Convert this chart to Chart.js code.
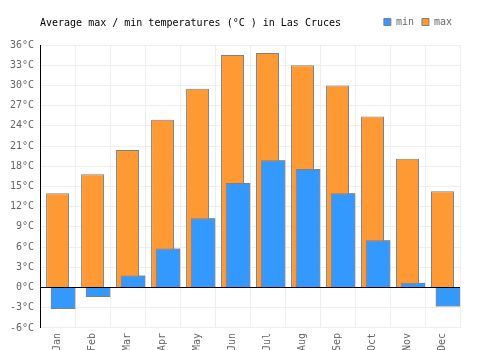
<!DOCTYPE html>
<html>
<head>
<meta charset="utf-8">
<script src="https://cdn.jsdelivr.net/npm/chart.js@4"></script>
<style>
  body { margin: 0; background: #fff; }
  #wrap { position: relative; width: 500px; height: 350px; }
  #title {
    position: absolute; left: 40px; top: 17px;
    font: 10px "DejaVu Sans Mono", monospace; color: #000;
  }
</style>
</head>
<body>
<div id="wrap">
  <canvas id="tempChart"></canvas>
  <div id="title">Average max / min temperatures (°C ) in Las Cruces</div>
</div>
<script>
const months = ['Jan', 'Feb', 'Mar', 'Apr', 'May', 'Jun', 'Jul', 'Aug', 'Sep', 'Oct', 'Nov', 'Dec'];
const maxTemps = [14.0, 16.8, 20.4, 24.9, 29.5, 34.5, 34.8, 33.0, 30.0, 25.4, 19.1, 14.3];
const minTemps = [-3.2, -1.4, 1.8, 5.8, 10.3, 15.5, 18.9, 17.6, 14.0, 7.0, 0.7, -2.8];
const yMin = -6;
const yMax = 36;
const yStep = 3;

const monoFont = { family: '"DejaVu Sans Mono", monospace', size: 10 };

// min bars overlap the max bars and sit on top of them
const minOnTop = {
    id: 'minOnTop',
    afterDatasetsDraw(chart) {
        chart.getDatasetMeta(0).controller.draw();
    }
};

// a bit more room under the legend
const legendSpace = {
    id: 'legendSpace',
    beforeInit(chart) {
        const fit = chart.legend.fit;
        chart.legend.fit = function () {
            fit.call(this);
            this.height += 8;
        };
    }
};

const ctx = document.getElementById('tempChart').getContext('2d');
new Chart(ctx, {
    type: 'bar',
    data: {
        labels: months,
        datasets: [
            {
                label: 'min',
                data: minTemps,
                order: 0,
                backgroundColor: '#3399ff',
                borderColor: '#808080',
                borderWidth: 1,
                categoryPercentage: 0.471,
                barPercentage: 4.49
            },
            {
                label: 'max',
                data: maxTemps,
                order: -1,
                backgroundColor: '#ff9933',
                borderColor: '#808080',
                borderWidth: 1,
                categoryPercentage: 0.471,
                barPercentage: 4.18
            },
            {
                // empty slot on the left so max is centred and min shifted right
                label: 'spacer',
                data: [],
                order: -2,
                categoryPercentage: 0.471,
                barPercentage: 4.18
            }
        ]
    },
    options: {
        responsive: true,
        maintainAspectRatio: false,
        animation: false,
        layout: { padding: { left: 4, right: 40, top: 9, bottom: -6 } },
        plugins: {
            legend: {
                display: true,
                position: 'top',
                align: 'end',
                labels: {
                    boxWidth: 7,
                    boxHeight: 7,
                    color: '#666',
                    font: monoFont,
                    padding: 8,
                    filter: item => item.text !== 'spacer',
                    sort: (a, b) => a.datasetIndex - b.datasetIndex
                }
            },
            tooltip: { enabled: false }
        },
        scales: {
            x: {
                grid: { color: '#eeeeee', drawTicks: false, offset: true },
                border: { color: '#eeeeee' },
                ticks: {
                    color: '#666',
                    font: monoFont,
                    minRotation: 90,
                    maxRotation: 90,
                    padding: 5
                }
            },
            y: {
                min: yMin,
                max: yMax,
                grid: {
                    color: c => (c.tick && c.tick.value === 0) ? '#000' : '#eeeeee',
                    drawTicks: false
                },
                border: { color: '#000' },
                ticks: {
                    stepSize: yStep,
                    color: '#666',
                    font: monoFont,
                    padding: 6,
                    callback: v => v + '°C'
                }
            }
        }
    },
    plugins: [minOnTop, legendSpace]
});
</script>
</body>
</html>
